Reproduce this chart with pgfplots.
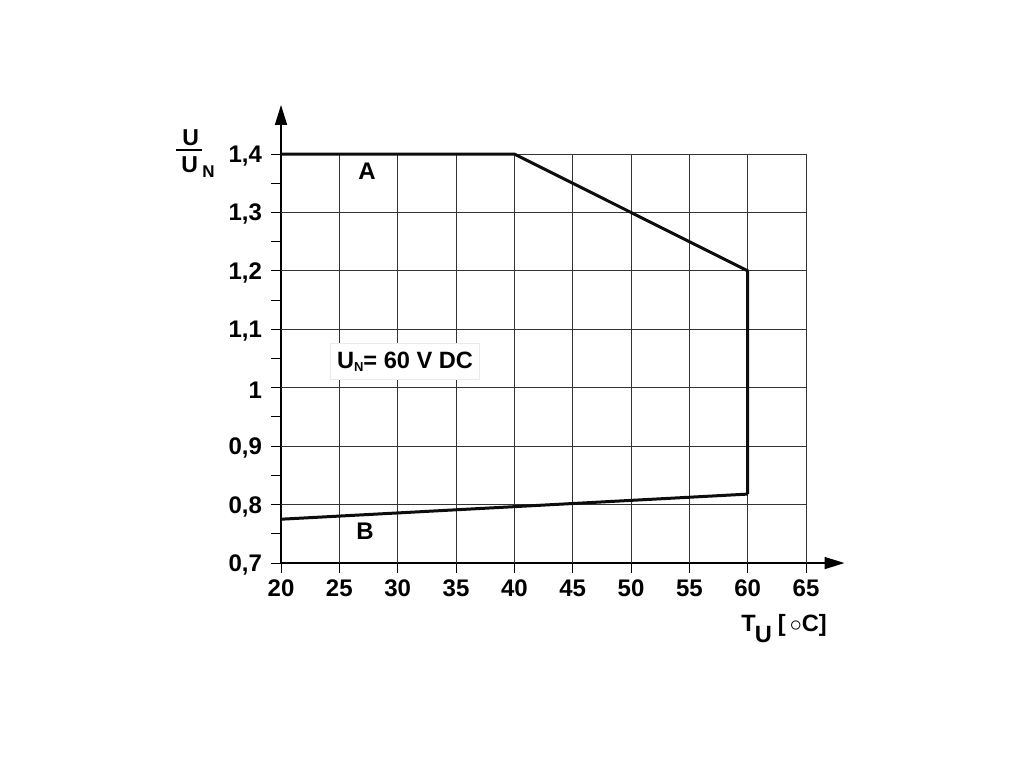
\documentclass[border=0pt]{standalone}
\usepackage{pgfplots}
\pgfplotsset{compat=1.18}
\usepackage{fontspec}
\setmainfont{Liberation Sans}
\usetikzlibrary{arrows.meta}

\begin{document}
\begin{tikzpicture}
\begin{axis}[
    x=5.8333pt, y=292.14pt,
    xmin=20, xmax=68.3,
    ymin=0.7, ymax=1.484,
    axis lines=left,
    axis line style={line width=0.75pt, -{Triangle[length=10pt,width=6pt]}},
    xtick={20,25,30,35,40,45,50,55,60,65},
    ytick={0.7,0.8,0.9,1.0,1.1,1.2,1.3,1.4},
    minor ytick={0.75,0.85,0.95,1.05,1.15,1.25,1.35},
    tick align=outside,
    major tick length=5pt,
    minor tick length=5pt,
    tick style={black, line width=0.5pt},
    ticklabel style={font=\bfseries\fontsize{12}{13}\selectfont},
    /pgf/number format/assume math mode=true,
    yticklabel style={xshift=-1pt, yshift=-1pt, /pgf/number format/.cd, use comma, fixed, precision=1},
    clip=false,
]
% grid
\pgfplotsinvokeforeach{25,30,35,40,45,50,55,60,65}{
  \draw[black!80, line width=0.5pt] (axis cs:#1,0.7) -- (axis cs:#1,1.4);
}
\pgfplotsinvokeforeach{0.8,0.9,1.0,1.1,1.2,1.3,1.4}{
  \draw[black!80, line width=0.5pt] (axis cs:20,#1) -- (axis cs:65,#1);
}

% curve A
\addplot[line width=1.5pt, black!95, line join=miter] coordinates
{(20,1.4) (40,1.4) (60,1.2) (60,0.818)};
% curve B
\addplot[line width=1.5pt, black!95] coordinates
{(20,0.775) (60,0.818)};

\node[font=\bfseries\fontsize{12}{13}\selectfont] at (axis cs:27.37,1.371) {A};
\node[font=\bfseries\fontsize{12}{13}\selectfont] at (axis cs:27.2,0.755) {B};

\node[fill=white, draw=black!8, minimum width=74.5pt, minimum height=18pt,
      font=\bfseries\fontsize{11.8}{13}\selectfont]
  at (axis cs:30.63,1.045) {U\raisebox{-1.5pt}{\fontsize{6.5}{7}\selectfont N}= 60 V DC};

% y label
\node[anchor=base west, inner sep=0pt, font=\bfseries\fontsize{11.5}{12}\selectfont]
  at (axis cs:11.514,1.4154) {U};
\draw[line width=0.75pt] (axis cs:11.0,1.4068) -- (axis cs:13.23,1.4068);
\node[anchor=base west, inner sep=0pt, font=\bfseries\fontsize{11.5}{12}\selectfont]
  at (axis cs:11.43,1.3692) {U};
\node[anchor=base west, inner sep=0pt, font=\bfseries\fontsize{8.5}{9}\selectfont]
  at (axis cs:13.23,1.3606) {N};

% x label
\node[anchor=base west, inner sep=0pt, font=\bfseries\fontsize{11.8}{13}\selectfont]
  at (axis cs:59.43,0.5836) {T\kern-0.5pt\raisebox{-5.5pt}{U}\hspace{3pt}[\hspace{2pt}$\circ$C]};

\coordinate (bl) at (axis cs:-4.086,0.3543);
\coordinate (tr) at (axis cs:83.34,1.6636);
\end{axis}
\pgfresetboundingbox
\path[use as bounding box] (bl) rectangle (tr);
\end{tikzpicture}
\end{document}
